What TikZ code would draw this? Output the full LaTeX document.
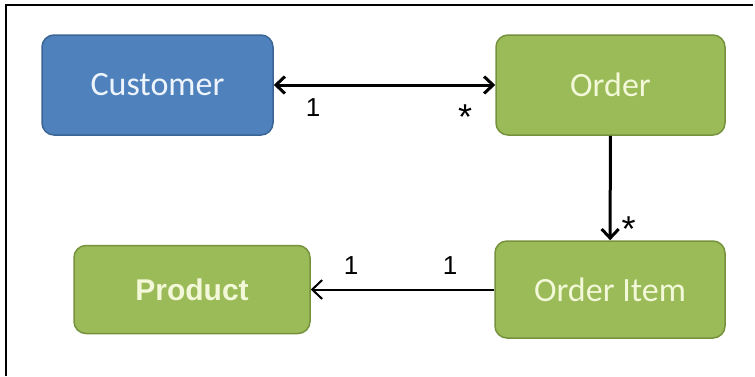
\documentclass[tikz,border=0pt]{standalone}
\usepackage{fontspec}
\setmainfont{Carlito}
\newfontfamily\arialfont{Liberation Sans}
\usetikzlibrary{arrows.meta}
\usepackage{xcolor}
\definecolor{custblue}{HTML}{4F81BD}
\definecolor{custedge}{HTML}{3A6594}
\definecolor{ordgreen}{HTML}{9BBB59}
\definecolor{ordedge}{HTML}{76923C}
\definecolor{paleblue}{HTML}{EEF4FC}
\definecolor{palegreen}{HTML}{F2F8D8}

\begin{document}
\begin{tikzpicture}[x=1pt, y=-1pt,
	entity/.style={draw, line width=1.5pt, rounded corners=12pt, inner sep=0pt,
		font=\fontsize{34}{40}\selectfont},
	mult/.style={font=\arialfont\fontsize{26}{30}\selectfont, inner sep=0pt},
	many/.style={font=\arialfont\fontsize{36}{40}\selectfont, inner sep=0pt}]
	\useasboundingbox (0,0) rectangle (755,376);
	\draw[line width=2pt] (6,376) -- (6,5) -- (753,5);
	\node (cust) [entity, fill=custblue, draw=custedge, text=paleblue,
		minimum width=231pt, minimum height=100pt] at (157.5, 85) {Customer};
	\node (ord) [entity, fill=ordgreen, draw=ordedge, text=palegreen,
		minimum width=229pt, minimum height=100pt] at (610.5, 85) {Order};
	\node (item) [entity, fill=ordgreen, draw=ordedge, text=palegreen,
		minimum width=230pt, minimum height=97pt] at (610, 289.5) {Order Item};
	\node (prod) [entity, fill=ordgreen, draw=ordedge, text=palegreen,
		minimum width=236pt, minimum height=88pt,
		font=\arialfont\bfseries\fontsize{30}{36}\selectfont] at (192, 289.5) {Product};
	\draw[line width=3pt, {Straight Barb[length=9pt, width=17pt]}-{Straight Barb[length=9pt, width=17pt]}] (cust) -- (ord);
	\draw[line width=3pt, -{Straight Barb[length=9pt, width=17pt]}] (ord) -- (item);
	\draw[line width=2pt, -{Straight Barb[length=10pt, width=19pt]}] (item) -- (prod);
	\node (c1) [mult] at (313, 108) {1};
	\node (o1) [many] at (465, 117.5) {*};
	\node (i1) [many] at (628.5, 229.5) {*};
	\node (p1) [mult] at (351, 266) {1};
	\node (p2) [mult] at (450, 266) {1};
\end{tikzpicture}
\end{document}
